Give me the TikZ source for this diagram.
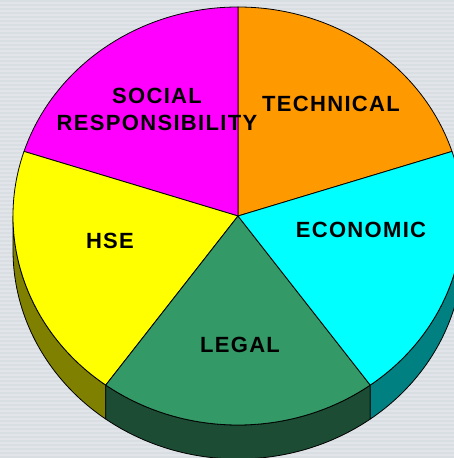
\documentclass[tikz,border=0pt]{standalone}
\usepackage{fontspec}
\setmainfont{Liberation Sans}
\newfontfamily\lblfont[LetterSpace=6]{Liberation Sans Bold}
\usetikzlibrary{calc}
\definecolor{bgcol}{HTML}{E1E5E9}
\definecolor{bgstripe}{HTML}{D9DEE2}
\definecolor{cMag}{HTML}{FF00FF}
\definecolor{cOra}{HTML}{FF9900}
\definecolor{cCya}{HTML}{00FFFF}
\definecolor{cGre}{HTML}{339966}
\definecolor{cYel}{HTML}{FFFF00}
\definecolor{sYel}{HTML}{808000}
\definecolor{sGre}{HTML}{1C4C33}
\definecolor{sCya}{HTML}{008080}
\tikzset{
  slice/.style={draw=black, line width=0.8pt, line join=round},
  lbl/.style={font=\lblfont\fontsize{22}{22}\selectfont, text=black, align=center, inner sep=0pt},
}
\begin{document}
\begin{tikzpicture}[x=1pt,y=1pt]
\useasboundingbox (0,0) rectangle (454,458);
\clip (0,0) rectangle (454,458);
\fill[bgcol] (0,0) rectangle (454,458);
\foreach \yy in {0,4,...,456} \fill[bgstripe] (0,\yy) rectangle (454,\yy+1.6);
\coordinate (c) at (238,242);
% sides
\foreach \a/\b/\col in {180/234/sYel, 234/306/sGre, 306/360/sCya}{
  \filldraw[slice, fill=\col] (c) ++(\a:225pt and 209pt)
    arc[start angle=\a, end angle=\b, x radius=225pt, y radius=209pt]
    -- ++(0,-34)
    arc[start angle=\b, end angle=\a, x radius=225pt, y radius=209pt]
    -- cycle;
}
% top slices
\foreach \a/\b/\col in {18/90/cOra, 90/162/cMag, 162/234/cYel, 234/306/cGre, 306/378/cCya}{
  \filldraw[slice, fill=\col] (c) -- +(\a:225pt and 209pt)
    arc[start angle=\a, end angle=\b, x radius=225pt, y radius=209pt] -- cycle;
}
\node[lbl] (tech) at (331,354) {TECHNICAL};
\node[lbl] (soc) at (157,349) {SOCIAL\\[5pt]RESPONSIBILITY};
\node[lbl] (hse) at (110,217) {HSE};
\node[lbl] (eco) at (361,228) {ECONOMIC};
\node[lbl] (leg) at (240,113) {LEGAL};
\end{tikzpicture}
\end{document}
